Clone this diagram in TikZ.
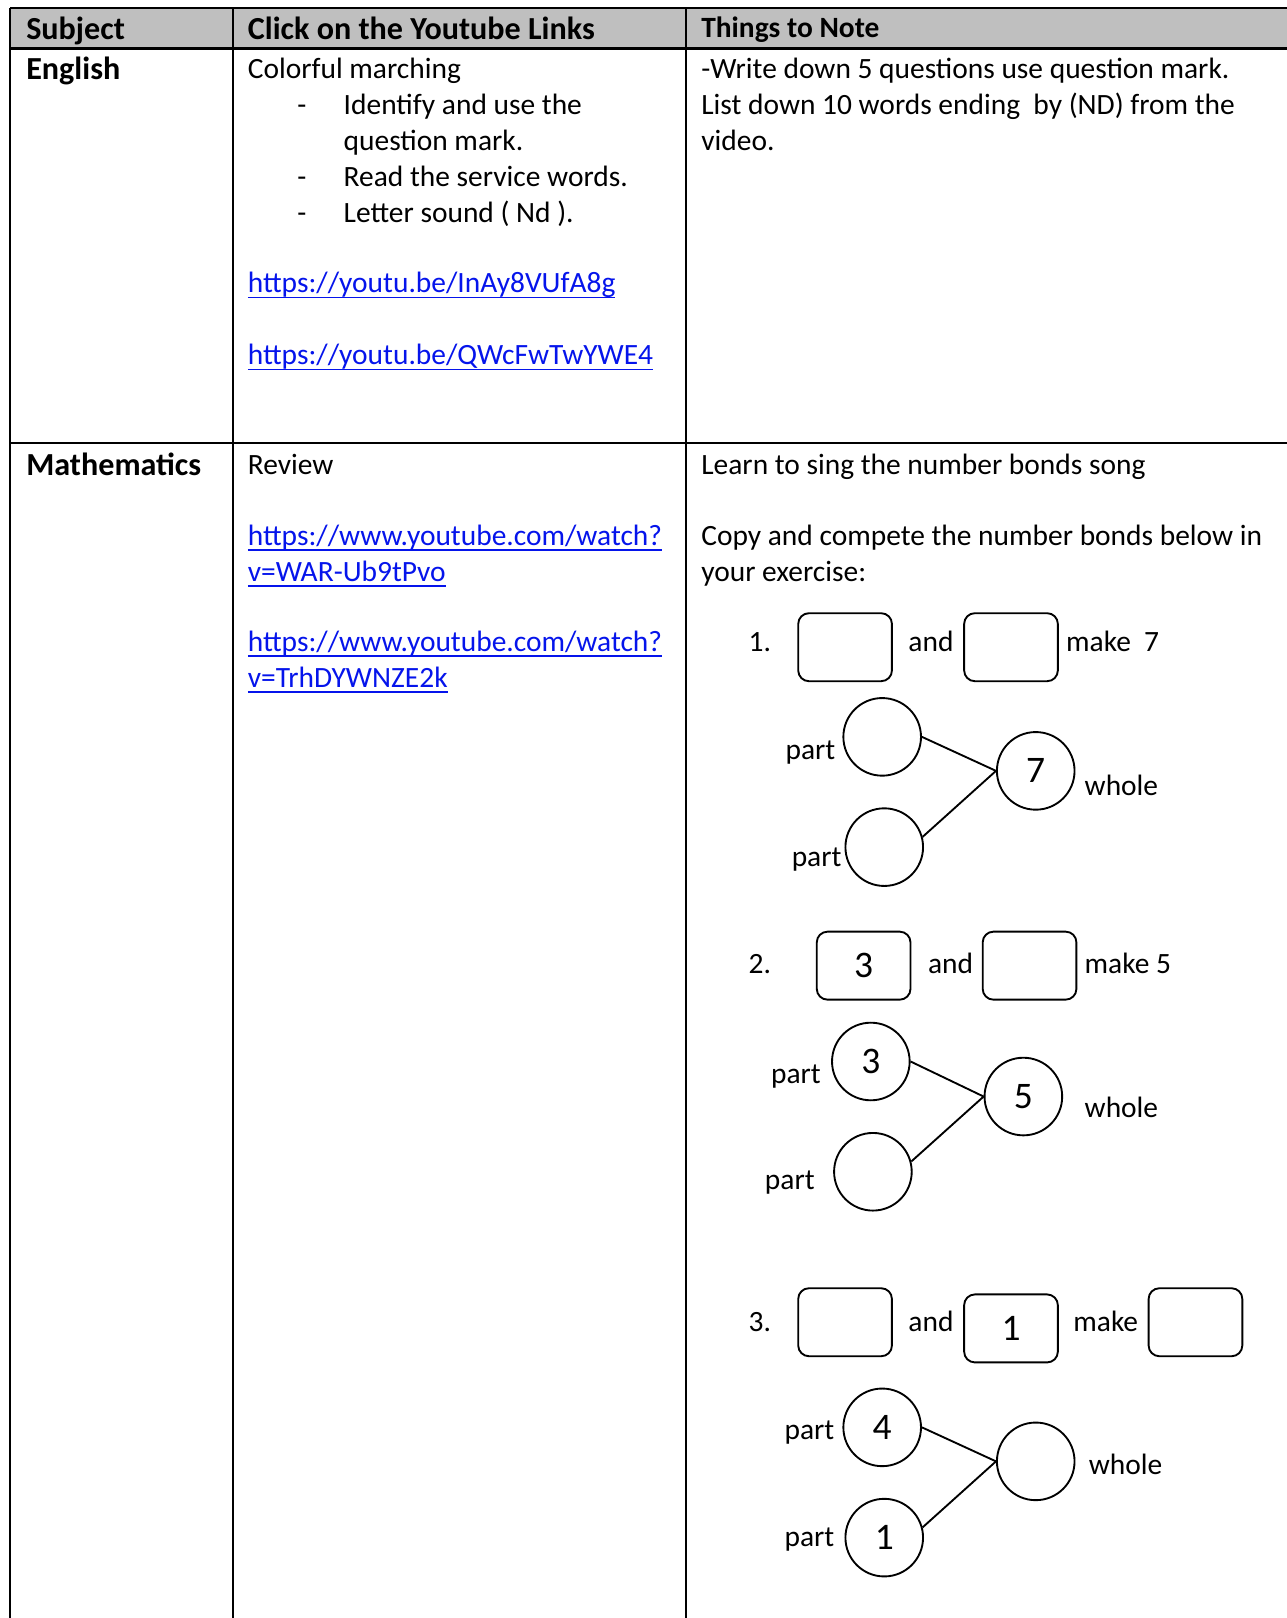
\documentclass[tikz,border=0pt]{standalone}
\usepackage{fontspec}
\setmainfont{Carlito}
\definecolor{headgray}{RGB}{191,191,191}
\definecolor{linkblue}{RGB}{5,20,235}
\newcommand{\ulink}[1]{\textcolor{linkblue}{\setbox0\hbox{#1}\rlap{\rule[-2pt]{\wd0}{0.55pt}}\box0}}

\begin{document}
\begin{tikzpicture}[x=0.385pt, y=-0.385pt,
    txt/.style={anchor=base west, inner sep=0pt, font=\fontsize{11}{13}\selectfont},
    hd/.style={anchor=base west, inner sep=0pt, font=\bfseries\fontsize{12}{14}\selectfont},
    numbox/.style={draw, line width=0.7pt, rounded corners=4pt, minimum width=35pt, minimum height=25.4pt, inner sep=0pt, font=\fontsize{14}{16}\selectfont},
    bond/.style={draw, circle, line width=0.7pt, minimum size=29pt, inner sep=0pt, font=\fontsize{14}{16}\selectfont}]
    \useasboundingbox (0,0) rectangle (1248,1570);

    % table
    \fill[headgray] (10,8) rectangle (1300,47);
    \draw[line width=0.8pt] (10,8) -- (1300,8) (10,47) -- (1300,47) (10,430) -- (1300,430);
    \draw[line width=0.8pt] (10,8) -- (10,1625) (226,8) -- (226,1625) (666,8) -- (666,1625);

    % header
    \node[hd] (hsub) at (25,38) {Subject};
    \node[hd] (hlink) at (240,38) {Click on the Youtube Links};
    \node[hd, font=\bfseries\fontsize{11}{13}\selectfont] (hnote) at (680,36) {Things to Note};

    % English
    \node[hd] (eng) at (25,77) {English};
    \node[txt] (e1) at (240,76) {Colorful marching};
    \node[txt] (d1) at (288,111) {-};
    \node[txt] (e2) at (333,111) {Identify and use the};
    \node[txt] (e3) at (333,146) {question mark.};
    \node[txt] (d2) at (288,181) {-};
    \node[txt] (e4) at (333,181) {Read the service words.};
    \node[txt] (d3) at (288,216) {-};
    \node[txt] (e5) at (333,216) {Letter sound ( Nd ).};
    \node[txt] (elink1) at (240,284) {\ulink{https://youtu.be/InAy8VUfA8g}};
    \node[txt] (elink2) at (240,354) {\ulink{https://youtu.be/QWcFwTwYWE4}};
    \node[txt] (en1) at (680,76) {-Write down 5 questions use question mark.};
    \node[txt] (en2) at (680,111) {List down 10 words ending\ \ by (ND) from the};
    \node[txt] (en3) at (680,146) {video.};

    % Mathematics
    \node[hd] (math) at (25,461) {Mathematics};
    \node[txt] (rev) at (240,460) {Review};
    \node[txt] (mlink1a) at (240,529) {\ulink{https://www.youtube.com/watch?}};
    \node[txt] (mlink1b) at (240,564) {\ulink{v=WAR-Ub9tPvo}};
    \node[txt] (mlink2a) at (240,632) {\ulink{https://www.youtube.com/watch?}};
    \node[txt] (mlink2b) at (240,667) {\ulink{v=TrhDYWNZE2k}};
    \node[txt] (mn1) at (680,460) {Learn to sing the number bonds song};
    \node[txt] (mn2) at (680,529) {Copy and compete the number bonds below in};
    \node[txt] (mn3) at (680,564) {your exercise:};

    % bond 1
    \node[txt] (q1) at (726,632) {1.};
    \node[numbox] (b1a) at (820,628) {};
    \node[txt] (and1) at (881,632) {and};
    \node[numbox] (b1b) at (981,628) {};
    \node[txt] (mk1) at (1034,632) {make\ \ 7};
    \node[bond] (p1a) at (856,715) {};
    \node[bond] (p1b) at (858,822) {};
    \node[bond] (w1) at (1005,748) {7};
    \node[txt, anchor=base east] (pl1a) at (811,737) {part};
    \node[txt, anchor=base east] (pl1b) at (817,841) {part};
    \node[txt] (wl1) at (1052,772) {whole};
    \draw[line width=0.7pt] (p1a.east) -- (w1.west);
    \draw[line width=0.7pt] (p1b.15) -- (w1.west);

    % bond 2
    \node[txt] (q2) at (726,945) {2.};
    \node[numbox] (b2a) at (838,937) {3};
    \node[txt] (and2) at (900,945) {and};
    \node[numbox] (b2b) at (999,937) {};
    \node[txt] (mk2) at (1052,945) {make 5};
    \node[bond] (p2a) at (845,1030) {3};
    \node[bond] (p2b) at (847,1137) {};
    \node[bond] (w2) at (993,1064) {5};
    \node[txt, anchor=base east] (pl2a) at (797,1051) {part};
    \node[txt, anchor=base east] (pl2b) at (791,1154) {part};
    \node[txt] (wl2) at (1052,1084) {whole};
    \draw[line width=0.7pt] (p2a.east) -- (w2.west);
    \draw[line width=0.7pt] (p2b.15) -- (w2.west);

    % bond 3
    \node[txt] (q3) at (726,1292) {3.};
    \node[numbox] (b3a) at (820,1283) {};
    \node[txt] (and3) at (881,1292) {and};
    \node[numbox] (b3b) at (981,1289) {1};
    \node[txt] (mk3) at (1041,1292) {make};
    \node[numbox] (b3c) at (1160,1283) {};
    \node[bond] (p3a) at (856,1385) {4};
    \node[bond] (p3b) at (858,1492) {1};
    \node[bond] (w3) at (1005,1418) {};
    \node[txt, anchor=base east] (pl3a) at (810,1397) {part};
    \node[txt, anchor=base east] (pl3b) at (810,1501) {part};
    \node[txt] (wl3) at (1056,1431) {whole};
    \draw[line width=0.7pt] (p3a.east) -- (w3.west);
    \draw[line width=0.7pt] (p3b.15) -- (w3.west);
\end{tikzpicture}
\end{document}
